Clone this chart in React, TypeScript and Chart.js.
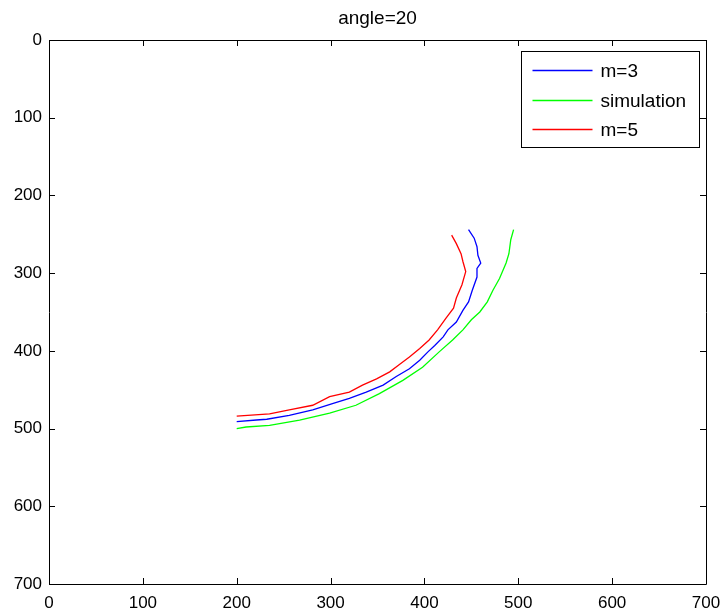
import React, { useEffect, useRef } from "react";
import { Chart, registerables } from "chart.js";

Chart.register(...registerables);

const TITLE = "angle=20";
const SERIES_LABELS = ["m=3", "simulation", "m=5"];
const SERIES_COLORS = ["#0000ff", "#00ff00", "#ff0000"];
const AXIS_MIN = 0;
const AXIS_MAX = 700;
const TICK_STEP = 100;

const blueX = [447, 453, 456, 457, 460, 456, 456, 451, 447, 441, 434, 425, 420, 411, 404, 395, 384, 370, 356, 338, 320, 302, 281, 256, 232, 221, 200];
const blueY = [244, 255, 266, 277, 287, 294, 305, 322, 337, 348, 363, 373, 382, 393, 401, 412, 423, 433, 444, 453, 461, 468, 476, 483, 488, 489, 491];

const greenX = [495, 492, 490, 487, 480, 473, 467, 459, 450, 441, 430, 416, 398, 377, 352, 327, 299, 267, 235, 210, 200];
const greenY = [244, 257, 275, 287, 307, 322, 337, 350, 360, 373, 386, 401, 421, 438, 455, 470, 480, 489, 496, 498, 500];

const redX = [429, 434, 439, 441, 444, 440, 434, 431, 423, 414, 405, 395, 384, 373, 363, 349, 334, 320, 299, 281, 256, 235, 200];
const redY = [251, 262, 275, 285, 298, 315, 332, 345, 358, 373, 386, 397, 408, 418, 427, 436, 444, 453, 459, 470, 476, 481, 484];

const FONT = "'Liberation Sans', Arial, Helvetica, sans-serif";

function toPoints(xs: number[], ys: number[]) {
  return xs.map((x, i) => ({ x, y: ys[i] }));
}

const framePlugin = {
  id: "matlabFrame",
  afterDatasetsDraw(chart: any) {
    const { ctx, chartArea } = chart;
    const xs = chart.scales.x;
    const ys = chart.scales.y;
    const L = 6;
    ctx.save();
    ctx.strokeStyle = "#000";
    ctx.lineWidth = 1;
    ctx.beginPath();
    ctx.rect(Math.round(chartArea.left) + 0.5, Math.round(chartArea.top) + 0.5,
      Math.round(chartArea.right - chartArea.left), Math.round(chartArea.bottom - chartArea.top));
    for (let v = AXIS_MIN; v <= AXIS_MAX; v += TICK_STEP) {
      const px = Math.round(xs.getPixelForValue(v)) + 0.5;
      ctx.moveTo(px, chartArea.bottom);
      ctx.lineTo(px, chartArea.bottom - L);
      ctx.moveTo(px, chartArea.top);
      ctx.lineTo(px, chartArea.top + L);
      const py = Math.round(ys.getPixelForValue(v)) + 0.5;
      ctx.moveTo(chartArea.left, py);
      ctx.lineTo(chartArea.left + L, py);
      ctx.moveTo(chartArea.right, py);
      ctx.lineTo(chartArea.right - L, py);
    }
    ctx.stroke();
    ctx.restore();
  },
};

const legendBoxPlugin = {
  id: "matlabLegend",
  afterDraw(chart: any) {
    const { ctx, chartArea } = chart;
    const w = 178;
    const h = 96;
    const left = Math.round(chartArea.right - 7 - w) + 0.5;
    const top = Math.round(chartArea.top + 11) + 0.5;
    ctx.save();
    ctx.fillStyle = "#fff";
    ctx.fillRect(left, top, w, h);
    ctx.strokeStyle = "#000";
    ctx.lineWidth = 1;
    ctx.strokeRect(left, top, w, h);
    const offsets = [18, 48, 77];
    chart.data.datasets.forEach((ds: any, i: number) => {
      const y = Math.round(top + offsets[i]) + 0.5;
      ctx.strokeStyle = ds.borderColor;
      ctx.lineWidth = 1.3;
      ctx.beginPath();
      ctx.moveTo(left + 11, y);
      ctx.lineTo(left + 71, y);
      ctx.stroke();
      ctx.fillStyle = "#000";
      ctx.font = `19px ${FONT}`;
      ctx.textAlign = "left";
      ctx.textBaseline = "middle";
      ctx.fillText(ds.label, left + 79, y + 1);
    });
    ctx.restore();
  },
};

export default function App() {
  const canvasRef = useRef<HTMLCanvasElement | null>(null);

  useEffect(() => {
    const canvas = canvasRef.current;
    if (!canvas) return;
    const seriesX = [blueX, greenX, redX];
    const seriesY = [blueY, greenY, redY];
    const chart = new Chart(canvas, {
      type: "scatter",
      data: {
        datasets: SERIES_LABELS.map((label, i) => ({
          label,
          data: toPoints(seriesX[i], seriesY[i]),
          showLine: true,
          borderColor: SERIES_COLORS[i],
          backgroundColor: SERIES_COLORS[i],
          borderWidth: 1.3,
          pointRadius: 0,
          tension: 0,
        })),
      },
      options: {
        responsive: false,
        animation: false,
        devicePixelRatio: 1,
        layout: { padding: { left: 0, right: 18, top: 0, bottom: 0 } },
        plugins: {
          legend: { display: false },
          tooltip: { enabled: false },
          title: {
            display: true,
            fullSize: false,
            text: TITLE,
            color: "#000",
            font: { family: FONT, size: 19, weight: "normal", lineHeight: 1.2 },
            padding: { top: 7, bottom: 10.2 },
          },
        },
        scales: {
          x: {
            type: "linear",
            min: AXIS_MIN,
            max: AXIS_MAX,
            ticks: {
              stepSize: TICK_STEP,
              color: "#000",
              padding: 9,
              maxRotation: 0,
              font: { family: FONT, size: 17 },
            },
            grid: { display: false, drawTicks: false },
            border: { display: false },
            afterFit: (scale: any) => {
              scale.height = 28;
              scale.paddingLeft = 0;
              scale.paddingRight = 0;
            },
          },
          y: {
            type: "linear",
            reverse: true,
            min: AXIS_MIN,
            max: AXIS_MAX,
            ticks: {
              stepSize: TICK_STEP,
              color: "#000",
              padding: 7,
              font: { family: FONT, size: 17 },
            },
            grid: { display: false, drawTicks: false },
            border: { display: false },
            afterFit: (scale: any) => {
              scale.width = 49;
              scale.paddingTop = 0;
              scale.paddingBottom = 0;
            },
          },
        },
      },
      plugins: [framePlugin, legendBoxPlugin],
    });
    return () => chart.destroy();
  }, []);

  return (
    <div style={{ position: "fixed", left: 0, top: 0, width: 724, height: 612, background: "#fff" }}>
      <canvas ref={canvasRef} width={724} height={612} style={{ display: "block" }} />
    </div>
  );
}
